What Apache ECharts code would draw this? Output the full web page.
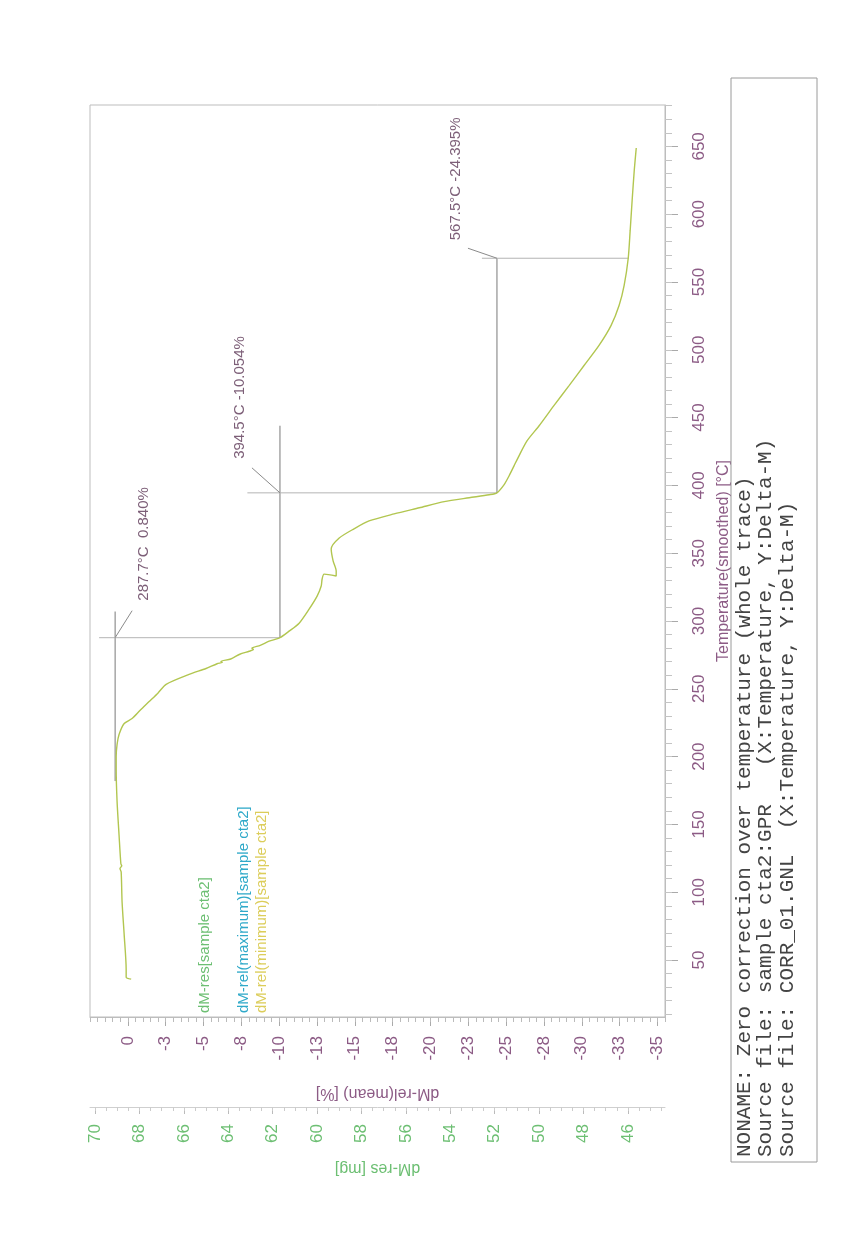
<!DOCTYPE html>
<html lang="en">
<head>
	<meta charset="utf-8">
	<title>TGA cta2</title>
	<script src="https://cdn.jsdelivr.net/npm/echarts@6/dist/echarts.min.js"></script>
</head>
<style>
	html,body{width: 100%; height: 100%; padding: 0; margin: 0; overflow: hidden; background: #fff;}
	#main{width: 868px; height: 1235px;}
</style>
<body>
	<div id="main"></div>
</body>
<script type="text/javascript">
	// curve: temperature [°C] and dM-rel [%]
	var temp = [35.9, 37.4, 43.3, 68.4, 92.8, 115.0, 117.5, 119.5, 121.0, 142.2, 166.8, 191.2, 200.0, 209.0, 216.3, 224.4,
		228.1, 234.0, 240.6, 247.0, 253.3, 260.6, 265.0, 268.5, 269.5, 270.3, 272.0, 275.5, 277.7, 279.0, 280.0, 282.0,
		285.1, 287.7, 292.5, 298.4, 308.8, 318.4, 325.8, 331.0, 334.6, 333.2, 336.9, 344.2, 353.1, 361.2, 368.0, 373.8,
		379.0, 383.5, 388.0, 390.9, 393.1, 394.5, 400.6, 407.1, 414.6, 422.0, 433.0, 444.0, 459.0, 473.6, 488.4, 503.2,
		518.0, 532.8, 547.5, 567.5, 588.2, 610.4, 632.6, 648.8];
	var dMrel = [-0.22, 0.11, 0.11, 0.24, 0.38, 0.44, 0.52, 0.40, 0.46, 0.58, 0.71, 0.77, 0.77, 0.71, 0.58, 0.24,
		-0.28, -0.80, -1.41, -2.00, -2.53, -4.05, -5.17, -5.90, -6.25, -6.15, -6.80, -7.40, -8.02, -8.30, -8.20, -8.75,
		-9.34, -10.05, -10.66, -11.32, -11.98, -12.51, -12.78, -12.84, -12.97, -13.77, -13.77, -13.57, -13.44, -13.97, -14.95, -15.94,
		-17.60, -19.26, -20.91, -22.56, -23.88, -24.39, -24.87, -25.20, -25.53, -25.86, -26.39, -27.18, -28.17, -29.16, -30.15, -31.14,
		-31.94, -32.47, -32.80, -33.07, -33.20, -33.33, -33.47, -33.60];

	// step markers
	var markT = [287.7, 394.5, 567.5];
	var markV = [0.840, -10.054, -24.395];
	var vertTop = [307, 444, 567.5];
	var vertBottom = [182, 287.7, 394.5];
	var horLeft = [1.9, -7.9, -23.4];
	var horRight = [-10.054, -24.395, -33.1];

	// axis ticks
	var relTicks = [0, -2.5, -5, -7.5, -10, -12.5, -15, -17.5, -20, -22.5, -25, -27.5, -30, -32.5, -35];
	var mgTicks = [70, 68, 66, 64, 62, 60, 58, 56, 54, 52, 50, 48, 46];
	var tempTicks = [50, 100, 150, 200, 250, 300, 350, 400, 450, 500, 550, 600, 650];

	var mauve = '#8c5b85', green = '#6dbf73';
	var sans = '"Liberation Sans", Arial, sans-serif';

	var relMinor = [], mgMinor = [], tempMinor = [];
	for (var i = -71; i <= 5; i++) relMinor.push(i * 0.5);
	for (var i = 89; i <= 140; i++) mgMinor.push(i * 0.5);
	for (var i = 1; i <= 68; i++) tempMinor.push(i * 10);

	var curve = [];
	for (var i = 0; i < temp.length; i++) curve.push([dMrel[i], temp[i]]);

	var series = [{
		type: 'line',
		data: curve,
		showSymbol: false,
		smooth: 0.25,
		lineStyle: {color: '#b2c650', width: 1.4},
		z: 5
	}];
	for (var k = 0; k < markT.length; k++) {
		series.push({
			type: 'line', showSymbol: false, silent: true,
			data: [[markV[k], vertTop[k]], [markV[k], vertBottom[k]]],
			lineStyle: {color: '#7a7a7a', width: 1}
		});
		series.push({
			type: 'line', showSymbol: false, silent: true,
			data: [[horLeft[k], markT[k]], [horRight[k], markT[k]]],
			lineStyle: {color: '#b4b4b4', width: 1}
		});
	}

	function relLabel(v){
		if (v == 0) return '0';
		return (v < 0 ? '-' : '') + Math.round(Math.abs(v));
	}

	var myChart = echarts.init(document.getElementById('main'));
	var option = {
		animation: false,
		backgroundColor: '#fff',
		grid: {left: 90, right: 203, top: 105, bottom: 218, show: true, borderColor: '#bdbdbd', borderWidth: 1, outerBoundsMode: 'none'},
		xAxis: [{
			type: 'value', position: 'bottom', inverse: true, min: -35.5, max: 2.5,
			axisLine: {show: true, onZero: false, lineStyle: {color: '#bdbdbd'}},
			axisTick: {show: true, customValues: relTicks, length: 9, lineStyle: {color: '#aaa'}},
			axisLabel: {customValues: relTicks, rotate: 90, margin: 19, fontSize: 17, color: mauve, fontFamily: sans, formatter: relLabel},
			splitLine: {show: false},
			name: 'dM-rel(mean) [%]', nameLocation: 'middle', nameRotate: 180, nameGap: 68,
			nameTextStyle: {color: mauve, fontSize: 16, fontFamily: sans}
		}, {
			type: 'value', position: 'bottom', inverse: true, min: -35.5, max: 2.5,
			axisLine: {show: false, onZero: false},
			axisTick: {show: true, customValues: relMinor, length: 5, lineStyle: {color: '#bbb'}},
			axisLabel: {show: false}, splitLine: {show: false}
		}, {
			type: 'value', position: 'bottom', inverse: true, min: 44.33, max: 70.23, offset: 90,
			axisLine: {show: true, onZero: false, lineStyle: {color: '#cfcfcf'}},
			axisTick: {show: true, customValues: mgTicks, length: 7, lineStyle: {color: '#bbb'}},
			axisLabel: {customValues: mgTicks, rotate: 90, margin: 17, fontSize: 17, color: green, fontFamily: sans},
			splitLine: {show: false},
			name: 'dM-res [mg]', nameLocation: 'middle', nameRotate: 180, nameGap: 53,
			nameTextStyle: {color: green, fontSize: 16, fontFamily: sans}
		}, {
			type: 'value', position: 'bottom', inverse: true, min: 44.33, max: 70.23, offset: 90,
			axisLine: {show: false, onZero: false},
			axisTick: {show: true, customValues: mgMinor, length: 4, lineStyle: {color: '#ccc'}},
			axisLabel: {show: false}, splitLine: {show: false}
		}],
		yAxis: [{
			type: 'value', position: 'right', min: 8, max: 680.5,
			axisLine: {show: true, onZero: false, lineStyle: {color: '#bdbdbd'}},
			axisTick: {show: true, customValues: tempTicks, length: 13, lineStyle: {color: '#aaa'}},
			axisLabel: {customValues: tempTicks, rotate: 90, margin: 26, fontSize: 17, color: mauve, fontFamily: sans},
			splitLine: {show: false},
			name: 'Temperature(smoothed) [°C]', nameLocation: 'middle', nameRotate: 90, nameGap: 47,
			nameTextStyle: {color: mauve, fontSize: 16, fontFamily: sans}
		}, {
			type: 'value', position: 'right', min: 8, max: 680.5,
			axisLine: {show: false, onZero: false},
			axisTick: {show: true, customValues: tempMinor, length: 7, lineStyle: {color: '#c4c4c4'}},
			axisLabel: {show: false}, splitLine: {show: false}
		}],
		series: series
	};
	myChart.setOption(option);

	// texts drawn on top: legend, info box, marker labels
	var g = [];
	function vtext(x, y, s, color, size, family){
		g.push({type: 'text', x: x, y: y, rotation: Math.PI / 2, z: 20,
			style: {text: s, fill: color, fontSize: size, fontFamily: family || sans, align: 'left', verticalAlign: 'middle'}});
	}
	vtext(205, 1013, 'dM-res[sample cta2]', green, 15);
	vtext(244, 1013, 'dM-rel(maximum)[sample cta2]', '#2fa9c9', 15);
	vtext(262, 1013, 'dM-rel(minimum)[sample cta2]', '#dccd5a', 15);

	g.push({type: 'rect', shape: {x: 731, y: 78, width: 86, height: 1084}, z: 10,
		style: {fill: 'none', stroke: '#9a9a9a', lineWidth: 1}});
	var mono = '"Liberation Mono", "Courier New", monospace';
	vtext(744, 1157, 'NONAME: Zero correction over temperature (whole trace)', '#444', 21, mono);
	vtext(765, 1157, 'Source file: sample cta2:GPR   (X:Temperature, Y:Delta-M)', '#444', 21, mono);
	vtext(787, 1157, 'Source file: CORR_01.GNL  (X:Temperature, Y:Delta-M)', '#444', 21, mono);

	var leadOff = [[17, -27], [-28, -25], [-29, -10]];
	var textOff = [[29, -37], [-40, -34], [-41, -18]];
	for (var k = 0; k < markT.length; k++) {
		var p = myChart.convertToPixel({xAxisIndex: 0, yAxisIndex: 0}, [markV[k], markT[k]]);
		g.push({type: 'line', z: 15, shape: {x1: p[0], y1: p[1], x2: p[0] + leadOff[k][0], y2: p[1] + leadOff[k][1]},
			style: {stroke: '#8a8a8a', lineWidth: 1}});
		var s = markT[k].toFixed(1) + '°C ' + (markV[k] >= 0 ? ' ' : '') + markV[k].toFixed(3) + '%';
		vtext(p[0] + textOff[k][0], p[1] + textOff[k][1], s, '#7d5f78', 15);
	}
	myChart.setOption({graphic: g});
</script>
</html>
